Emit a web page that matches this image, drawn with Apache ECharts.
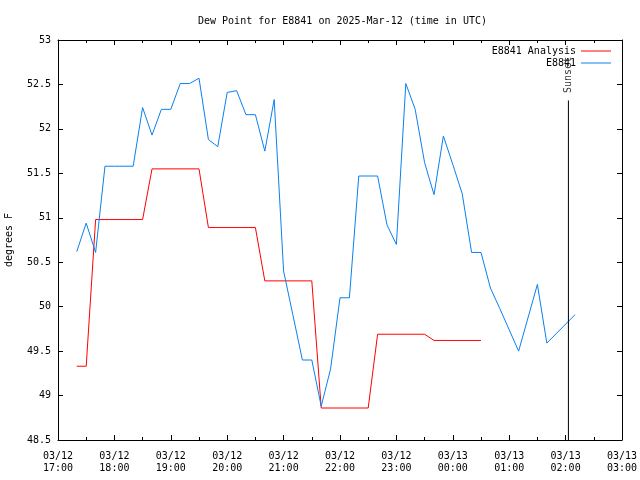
<!DOCTYPE html>
<html>
<head>
<meta charset="utf-8">
<script src="https://cdn.jsdelivr.net/npm/echarts@6/dist/echarts.min.js"></script>
<style>html,body{margin:0;padding:0;background:#fff;}#c{width:640px;height:480px;}</style>
</head>
<body>
<div id="c"></div>
<script>
// hours since 03/12 17:00 UTC
var blueHours = [0.333,0.5,0.667,0.833,1.0,1.167,1.333,1.5,1.667,1.833,2.0,2.167,2.333,2.5,2.667,2.833,3.0,3.167,3.333,3.5,3.667,3.833,4.0,4.167,4.333,4.5,4.667,4.833,5.0,5.167,5.333,5.5,5.667,5.833,6.0,6.167,6.333,6.5,6.667,6.833,7.0,7.167,7.333,7.5,7.667,7.833,8.0,8.167,8.5,8.667,9.167];
var blueVals  = [50.62,50.94,50.61,51.58,51.58,51.58,51.58,52.24,51.93,52.22,52.22,52.51,52.51,52.57,51.88,51.80,52.41,52.43,52.16,52.16,51.75,52.33,50.40,49.90,49.40,49.40,48.88,49.30,50.10,50.10,51.47,51.47,51.47,50.92,50.70,52.51,52.22,51.62,51.26,51.92,51.60,51.27,50.61,50.61,50.21,49.98,49.74,49.50,50.25,49.59,49.91];
var redHours = [0.333,0.5,0.667,1.5,1.667,2.5,2.667,3.5,3.667,4.5,4.667,5.5,5.667,6.5,6.667,7.5];
var redVals  = [49.33,49.33,50.98,50.98,51.55,51.55,50.89,50.89,50.29,50.29,48.86,48.86,49.69,49.69,49.62,49.62];
var xDates = ['03/12','03/12','03/12','03/12','03/12','03/12','03/12','03/13','03/13','03/13','03/13'];
var xTimes = ['17:00','18:00','19:00','20:00','21:00','22:00','23:00','00:00','01:00','02:00','03:00'];
var sunsetHour = 9.05;
var sunsetTop = 52.32;
var yMin = 48.5, yMax = 53;

function pairs(xs, ys){ return xs.map(function(x,i){ return [x, ys[i]]; }); }

var font = 'DejaVu Sans Mono';
var chart = echarts.init(document.getElementById('c'), null, {renderer:'canvas'});
var tickStyle = {color:'#000', width:1};
chart.setOption({
  animation:false,
  backgroundColor:'#fff',
  textStyle:{fontFamily:font},
  title:{text:'Dew Point for E8841 on 2025-Mar-12 (time in UTC)', left:193, top:11,
    textStyle:{fontFamily:font, fontSize:10, fontWeight:'normal', color:'#000'}},
  legend:{orient:'vertical', right:24, top:40, align:'right', itemWidth:30, itemHeight:8, itemGap:0,
    textStyle:{fontFamily:font, fontSize:10, color:'#000', lineHeight:12},
    data:[{name:'E8841 Analysis', icon:'path://M0,0H30V1H0Z'},{name:'E8841', icon:'path://M0,0H30V1H0Z'}]},
  grid:{left:58, right:18, top:40, bottom:40, outerBoundsMode:'none', containLabel:false},
  xAxis:[{type:'value', min:0, max:10, interval:1, position:'bottom',
    axisLine:{onZero:false, lineStyle:{color:'#000', width:1}},
    axisTick:{inside:true, length:5, lineStyle:tickStyle},
    minorTick:{show:true, splitNumber:2, length:3, lineStyle:tickStyle},
    splitLine:{show:false},
    axisLabel:{margin:10, fontFamily:font, fontSize:10, color:'#000', lineHeight:12,
      formatter:function(v){ var i=Math.round(v); return xDates[i]+'\n'+xTimes[i]; }}},
   {type:'value', min:0, max:10, interval:1, position:'top',
    axisLine:{onZero:false, lineStyle:{color:'#000', width:1}},
    axisTick:{inside:true, length:5, lineStyle:tickStyle},
    minorTick:{show:true, splitNumber:2, length:3, lineStyle:tickStyle},
    splitLine:{show:false}, axisLabel:{show:false}}],
  yAxis:[{type:'value', min:yMin, max:yMax, interval:0.5, position:'left',
    name:'degrees F', nameLocation:'middle', nameGap:44,
    nameTextStyle:{fontFamily:font, fontSize:10, color:'#000'},
    axisLine:{onZero:false, lineStyle:{color:'#000', width:1}},
    axisTick:{inside:true, length:5, lineStyle:tickStyle},
    splitLine:{show:false},
    axisLabel:{margin:7, fontFamily:font, fontSize:10, color:'#000'}},
   {type:'value', min:yMin, max:yMax, interval:0.5, position:'right',
    axisLine:{onZero:false, lineStyle:{color:'#000', width:1}},
    axisTick:{inside:true, length:5, lineStyle:tickStyle},
    splitLine:{show:false}, axisLabel:{show:false}}],
  series:[
    {name:'E8841 Analysis', type:'line', data:pairs(redHours, redVals), showSymbol:false, symbol:'none',
      lineStyle:{color:'#ff0000', width:1}, itemStyle:{color:'#ff0000'}},
    {name:'E8841', type:'line', data:pairs(blueHours, blueVals), showSymbol:false, symbol:'none',
      lineStyle:{color:'#0a80f0', width:1}, itemStyle:{color:'#0a80f0'}},
    {name:'Sunset', type:'line', symbol:'none', lineStyle:{color:'#000', width:1}, silent:true,
      data:[[sunsetHour, yMin], [sunsetHour, sunsetTop]]},
    {name:'SunsetLabel', type:'scatter', symbolSize:1, itemStyle:{color:'rgba(0,0,0,0)'}, silent:true, z:10,
      data:[[sunsetHour, sunsetTop]],
      label:{show:true, formatter:'Sunset', position:'top', distance:7, rotate:90, align:'left', verticalAlign:'middle',
        fontFamily:font, fontSize:10, color:'#000'}}
  ]
});
</script>
</body>
</html>
